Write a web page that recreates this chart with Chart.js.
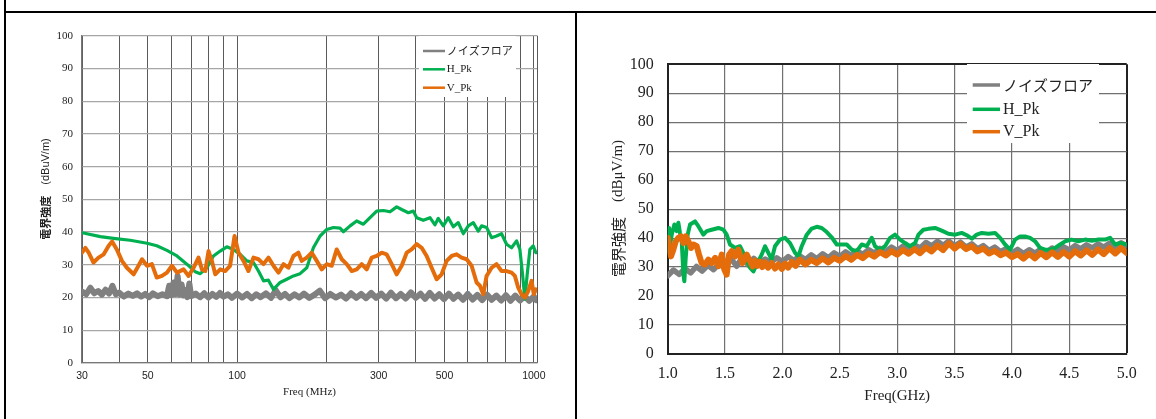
<!DOCTYPE html>
<html>
<head>
<meta charset="utf-8">
<script src="https://cdn.jsdelivr.net/npm/chart.js@4.4.1/dist/chart.umd.min.js"></script>
<style>
  html, body { margin: 0; padding: 0; background: #fff; }
  body { width: 1156px; height: 419px; position: relative; overflow: hidden; }
  .rule { position: absolute; background: #000; }
  canvas { position: absolute; }
</style>
</head>
<body>
<div class="rule" style="left:4px;top:0;width:2px;height:419px"></div>
<div class="rule" style="left:4px;top:11px;width:1152px;height:2px"></div>
<div class="rule" style="left:575px;top:11px;width:2px;height:408px"></div>
<canvas id="low" width="569" height="406" style="left:6px;top:13px;width:569px;height:406px"></canvas>
<canvas id="high" width="579" height="406" style="left:577px;top:13px;width:579px;height:406px"></canvas>
<script>
// Series names and colours shared by both panels
const seriesNames = ['ノイズフロア', 'H_Pk', 'V_Pk'];
const seriesColors = ['#808080', '#00b050', '#e46c0a'];

// ---- 30 MHz – 1 GHz panel (log frequency axis, MHz) ----
const lowGridFreqs = [30, 40, 50, 60, 70, 80, 90, 100, 200, 300, 400, 500, 600, 700, 800, 900, 1000];
const lowTickLabels = [30, 50, 100, 300, 500, 1000];
const levelTicks = [0, 10, 20, 30, 40, 50, 60, 70, 80, 90, 100];

const lowNoiseFreq = [
  30, 31, 32, 33, 34, 35, 36, 37, 38, 39, 40,
  41.5, 43, 44.5, 46, 47.5, 49, 50.5, 52, 54, 56,
  58, 59, 60, 61, 62, 63, 64, 65, 66, 67, 68, 69, 70,
  72.5, 75, 77.5, 80, 82.5, 85, 87.5, 90, 93, 96, 100,
  104, 108, 112, 116, 120, 125, 130, 135, 140, 145, 150,
  156, 162, 168, 175, 182, 190, 198, 206, 215, 224, 233, 242, 252, 262, 272, 283, 294,
  306, 318, 330, 343, 356, 370, 385, 400, 415, 430, 446, 463, 480, 498,
  517, 536, 556, 577, 599, 622, 645, 670, 695, 721, 748, 776, 805, 835, 866, 898, 931, 965, 1000, 1020
];
const lowNoiseLevel = [
  21.8, 21.0, 23.0, 21.3, 22.0, 20.9, 22.4, 21.2, 23.6, 21.0, 21.5,
  20.3, 21.2, 20.5, 21.3, 20.3, 21.1, 20.1, 21.3, 20.4, 21.0,
  20.4, 23.6, 20.7, 24.6, 21.0, 26.6, 20.9, 24.0, 20.6, 22.3, 20.1, 24.3, 20.4,
  21.2, 20.1, 21.3, 20.0, 21.1, 20.2, 21.4, 20.3, 21.0, 19.9, 21.2,
  20.0, 21.1, 19.8, 21.0, 20.1, 21.3, 19.9, 22.2, 20.1, 21.1, 19.8,
  21.0, 20.0, 21.2, 19.9, 20.8, 22.1, 19.8, 21.1, 20.0, 20.9, 19.7, 21.3, 19.9, 21.1, 19.8, 21.4, 19.9,
  21.2, 19.7, 21.5, 19.8, 21.1, 19.7, 21.6, 19.9, 21.2, 19.6, 21.4, 19.7, 21.0, 19.5,
  21.2, 19.6, 20.9, 19.3, 21.1, 19.4, 20.8, 19.2, 20.9, 19.3, 20.6, 19.1, 20.7, 19.0, 20.6, 19.1, 20.4, 19.0, 20.3, 19.2
];

const lowHFreq = [
  30.0, 34.6, 38.3, 43.6, 49.7, 53.6, 58.0, 62.7, 67.7, 72.2, 75.1, 79.1, 83.2, 87.7, 92.3, 97.2,
  102.4, 107.8, 113.5, 118.0, 122.7, 127.5, 132.6, 139.6, 147.0, 154.8, 163.0, 171.7, 180.7, 190.4,
  200.5, 211.1, 222.3, 228.1, 240.3, 252.9, 266.4, 280.5, 295.4, 311.1, 327.6, 345.0, 358.6, 377.6, 392.6,
  402.9, 424.2, 446.7, 464.3, 476.4, 495.3, 514.9, 535.3, 556.5, 578.5, 601.3, 625.1, 649.8, 666.8, 693.2,
  720.6, 748.8, 778.6, 809.3, 841.4, 874.7, 897.5, 916.2, 933.0, 950.0, 970.0, 995.4, 1016
];
const lowHLevel = [
  39.8, 38.6, 38.1, 37.5, 36.6, 35.8, 34.4, 32.7, 30.2, 27.9, 27.3, 29.1, 32.7, 34.2, 35.5, 34.7,
  33.2, 31.2, 30.7, 28.1, 25.1, 25.3, 22.5, 24.6, 25.6, 26.6, 27.3, 29.1, 35.2, 38.8,
  40.8, 41.4, 41.2, 40.1, 41.9, 43.4, 42.4, 44.4, 46.4, 46.6, 46.2, 47.7, 46.9, 45.9, 46.4,
  44.4, 43.6, 44.4, 42.2, 44.2, 41.9, 44.4, 41.6, 42.9, 39.5, 41.9, 42.9, 40.3, 41.9, 41.4,
  38.3, 38.8, 39.5, 36.3, 35.2, 37.3, 34.7, 27.1, 19.5, 27.1, 34.7, 35.8, 33.7
];

const lowVFreq = [
  30.0, 30.8, 31.6, 32.8, 34.1, 35.5, 36.9, 37.9, 39.3, 40.9, 42.5, 44.8, 46.5, 47.8, 49.7, 51.6,
  53.6, 55.8, 58.0, 60.3, 62.7, 66.0, 68.6, 71.3, 74.1, 76.1, 78.1, 80.1, 82.2, 84.4, 87.7, 91.1,
  94.7, 98.0, 101.1, 105.1, 109.2, 113.5, 118.0, 122.7, 127.5, 132.6, 137.8, 143.3, 148.9, 154.8,
  160.9, 165.1, 171.7, 178.4, 185.5, 192.9, 200.5, 208.4, 216.6, 225.2, 234.1, 243.4, 252.9, 263.0,
  273.4, 284.2, 295.4, 307.1, 319.2, 331.9, 345.0, 358.6, 372.8, 387.5, 402.9, 418.8, 435.3, 452.5,
  470.4, 488.9, 508.3, 528.4, 549.3, 571.0, 593.6, 617.1, 641.5, 658.3, 675.5, 693.2, 720.6, 748.8,
  778.6, 809.3, 841.4, 863.5, 886.1, 909.2, 933.0, 957.5, 982.5, 1000, 1016
];
const lowVLevel = [
  33.7, 35.2, 33.7, 30.7, 32.2, 33.2, 35.8, 37.1, 34.7, 31.2, 29.1, 27.1, 29.7, 31.7, 29.7, 30.2,
  26.1, 26.6, 27.6, 29.7, 27.6, 28.6, 26.6, 29.1, 32.2, 28.6, 28.1, 34.2, 31.2, 27.1, 28.6, 28.1,
  29.7, 38.8, 33.7, 31.2, 28.1, 32.2, 31.7, 30.2, 32.2, 29.7, 27.6, 30.2, 29.1, 32.7,
  33.7, 31.2, 32.2, 33.7, 31.2, 28.6, 30.2, 29.7, 34.7, 31.7, 30.2, 28.1, 28.6, 30.2,
  28.6, 32.2, 32.7, 33.7, 33.2, 30.2, 27.1, 29.7, 33.7, 34.7, 36.3, 35.2, 32.7, 29.1,
  25.6, 27.1, 31.2, 32.7, 33.2, 32.2, 31.7, 29.7, 24.6, 23.6, 21.0, 26.6, 29.1, 30.2,
  28.1, 28.1, 27.6, 26.6, 23.0, 21.0, 20.0, 22.0, 25.1, 21.0, 22.5
];

// ---- 1 GHz – 5 GHz panel (linear frequency axis, GHz) ----
const highNoiseFreq = [
  1.00, 1.05, 1.10, 1.15, 1.20, 1.25, 1.30, 1.35, 1.40, 1.45, 1.50, 1.55, 1.60, 1.65, 1.70, 1.75,
  1.80, 1.85, 1.90, 1.95, 2.00, 2.05, 2.10, 2.15, 2.20, 2.25, 2.30, 2.35, 2.40, 2.45, 2.50, 2.55,
  2.60, 2.65, 2.70, 2.75, 2.80, 2.85, 2.90, 2.95, 3.00, 3.05, 3.10, 3.15, 3.20, 3.25, 3.30, 3.35,
  3.40, 3.45, 3.50, 3.55, 3.60, 3.65, 3.70, 3.75, 3.80, 3.85, 3.90, 3.95, 4.00, 4.05, 4.10, 4.15,
  4.20, 4.25, 4.30, 4.35, 4.40, 4.45, 4.50, 4.55, 4.60, 4.65, 4.70, 4.75, 4.80, 4.85, 4.90, 4.95, 5.00
];
const highNoiseLevel = [
  27.0, 29.0, 27.5, 29.5, 28.0, 30.2, 28.6, 30.6, 29.1, 31.2, 29.6, 33.0, 30.3, 33.4, 30.8, 33.0,
  31.3, 32.8, 31.6, 33.2, 31.9, 33.6, 32.3, 33.9, 32.6, 34.2, 32.9, 34.6, 33.2, 34.9, 33.6, 35.3,
  34.0, 35.6, 34.4, 36.0, 34.8, 36.5, 35.3, 36.9, 35.7, 37.2, 36.1, 37.6, 36.6, 38.5, 37.3, 38.9,
  37.5, 39.0, 37.3, 38.6, 36.9, 38.0, 36.3, 37.4, 35.8, 36.9, 35.3, 36.4, 34.9, 36.1, 34.7, 36.0,
  34.8, 36.2, 35.1, 36.6, 35.5, 37.0, 35.9, 37.4, 36.3, 37.7, 36.6, 38.0, 36.9, 38.2, 37.1, 38.4, 37.3
];

const highHFreq = [
  1.000, 1.012, 1.023, 1.035, 1.058, 1.078, 1.093, 1.107, 1.122, 1.137, 1.145, 1.157, 1.174, 1.195,
  1.238, 1.267, 1.311, 1.340, 1.383, 1.442, 1.485, 1.514, 1.543, 1.587, 1.630, 1.674, 1.718, 1.747,
  1.776, 1.819, 1.848, 1.877, 1.906, 1.935, 1.979, 2.023, 2.066, 2.110, 2.139, 2.168, 2.212, 2.255,
  2.299, 2.342, 2.386, 2.429, 2.473, 2.517, 2.560, 2.604, 2.647, 2.691, 2.734, 2.778, 2.807, 2.851,
  2.894, 2.938, 2.981, 3.025, 3.069, 3.112, 3.156, 3.185, 3.228, 3.272, 3.330, 3.388, 3.446, 3.505,
  3.562, 3.606, 3.650, 3.693, 3.737, 3.795, 3.853, 3.897, 3.940, 3.984, 4.027, 4.071, 4.114, 4.158,
  4.202, 4.245, 4.289, 4.332, 4.376, 4.420, 4.463, 4.521, 4.579, 4.637, 4.696, 4.754, 4.812, 4.855,
  4.899, 4.943, 5.000
];
const highHLevel = [
  35.0, 43.5, 38.0, 41.2, 44.7, 42.4, 45.3, 41.8, 38.9, 27.4, 25.1, 33.2, 41.2, 44.7,
  45.8, 44.1, 41.2, 42.4, 42.9, 43.5, 42.9, 41.2, 37.8, 36.6, 37.2, 33.7, 29.7, 28.5,
  30.9, 34.3, 37.2, 34.9, 32.6, 37.2, 39.5, 40.1, 38.3, 34.9, 33.7, 37.2, 41.2, 43.3,
  43.9, 43.5, 42.1, 40.3, 37.8, 37.8, 37.8, 36.0, 35.5, 37.8, 37.2, 40.1, 37.2, 36.0,
  37.2, 40.1, 41.2, 39.5, 38.3, 37.2, 38.3, 41.2, 42.9, 43.2, 43.5, 42.6, 41.5, 41.2,
  41.8, 41.0, 39.8, 41.2, 41.8, 41.5, 41.8, 40.1, 37.8, 36.0, 39.5, 40.6, 40.6, 40.1,
  38.9, 36.6, 36.0, 36.0, 36.6, 37.8, 38.9, 39.5, 38.9, 39.5, 39.1, 39.5, 39.5, 40.1,
  37.8, 38.3, 37.8
];

const highVFreq = [
  1.000, 1.012, 1.029, 1.049, 1.070, 1.093, 1.116, 1.137, 1.157, 1.180, 1.203, 1.224, 1.253, 1.273,
  1.296, 1.325, 1.354, 1.384, 1.413, 1.442, 1.471, 1.494, 1.514, 1.535, 1.558, 1.587, 1.616, 1.651,
  1.689, 1.718, 1.740, 1.761, 1.785, 1.805, 1.825, 1.848, 1.875, 1.906, 1.935, 1.965, 1.995, 2.023,
  2.050, 2.081, 2.115, 2.15, 2.20, 2.25, 2.30, 2.35, 2.40, 2.45, 2.50, 2.55, 2.60, 2.65, 2.70, 2.75,
  2.80, 2.85, 2.90, 2.95, 3.00, 3.05, 3.10, 3.15, 3.20, 3.25, 3.30, 3.35, 3.40, 3.45, 3.50, 3.55,
  3.60, 3.65, 3.70, 3.75, 3.80, 3.85, 3.90, 3.95, 4.00, 4.05, 4.10, 4.15, 4.20, 4.25, 4.30, 4.35,
  4.40, 4.45, 4.50, 4.55, 4.60, 4.65, 4.70, 4.75, 4.80, 4.85, 4.90, 4.95, 5.00
];
const highVLevel = [
  40.1, 37.2, 33.7, 36.0, 38.9, 40.1, 40.6, 38.3, 40.6, 38.9, 36.6, 37.8, 37.2, 34.3,
  31.4, 30.9, 32.6, 31.4, 33.2, 30.3, 34.3, 29.1, 27.4, 34.3, 35.5, 33.7, 36.0, 31.4,
  34.3, 32.0, 30.2, 32.2, 30.4, 31.9, 30.0, 31.6, 29.8, 31.4, 29.5, 30.9, 29.4, 31.2,
  29.8, 31.8, 30.4, 32.6, 30.9, 32.5, 31.4, 33.0, 31.6, 33.2, 32.2, 33.8, 32.5, 34.2, 33.1, 34.7,
  33.6, 35.2, 34.0, 35.5, 34.3, 35.9, 34.6, 36.2, 34.8, 36.7, 35.4, 37.4, 35.9, 38.2, 36.4, 38.0,
  36.2, 37.2, 35.4, 36.4, 34.7, 35.6, 34.1, 35.0, 33.4, 34.5, 32.9, 34.6, 33.0, 34.9, 33.4, 35.1,
  33.5, 35.2, 33.6, 35.5, 34.0, 35.8, 34.2, 36.1, 34.5, 36.5, 34.7, 36.6, 34.9
];

function pairs(xs, ys) {
  return xs.map((x, i) => ({ x: x, y: ys[i] }));
}

// Legend drawn inside the plot area on a white box
function makeLegend(cfg) {
  return {
    id: 'insideLegend',
    afterDatasetsDraw(chart) {
      const ctx = chart.ctx;
      ctx.save();
      ctx.fillStyle = '#fff';
      ctx.fillRect(cfg.box[0], cfg.box[1], cfg.box[2], cfg.box[3]);
      chart.data.datasets.forEach((ds, i) => {
        const y = cfg.rows[i];
        ctx.strokeStyle = ds.borderColor;
        ctx.lineWidth = cfg.lineWidth;
        ctx.lineCap = 'butt';
        ctx.beginPath();
        ctx.moveTo(cfg.lineX[0], y);
        ctx.lineTo(cfg.lineX[1], y);
        ctx.stroke();
        ctx.fillStyle = '#222';
        ctx.textAlign = 'left';
        ctx.textBaseline = 'middle';
        ctx.font = /[^\x00-\x7f]/.test(ds.label) ? cfg.cjkFont : cfg.latinFont;
        ctx.fillText(ds.label, cfg.textX, y);
      });
      ctx.restore();
    }
  };
}

// Rotated y-axis title made of parts in different fonts
function makeYTitle(cfg) {
  return {
    id: 'yTitle',
    afterDraw(chart) {
      const ctx = chart.ctx;
      ctx.save();
      ctx.translate(cfg.x, cfg.y);
      ctx.rotate(-Math.PI / 2);
      ctx.fillStyle = '#222';
      ctx.textBaseline = 'middle';
      ctx.textAlign = 'left';
      let total = 0;
      const widths = cfg.parts.map(p => { ctx.font = p.font; const w = ctx.measureText(p.text).width; total += w; return w; });
      let x = -total / 2;
      cfg.parts.forEach((p, i) => { ctx.font = p.font; ctx.fillText(p.text, x, 0); x += widths[i]; });
      ctx.restore();
    }
  };
}

const serif = '"Liberation Serif", "Times New Roman", serif';
const sans = '"Liberation Sans", Arial, sans-serif';
const cjk = '"Noto Sans CJK JP", sans-serif';

const commonElements = {
  point: { radius: 0 },
  line: { tension: 0, borderJoinStyle: 'round', borderCapStyle: 'round', fill: false }
};

new Chart(document.getElementById('low'), {
  type: 'line',
  data: {
    datasets: [
      { label: seriesNames[0], data: pairs(lowNoiseFreq, lowNoiseLevel), borderColor: seriesColors[0], borderWidth: 6, order: 3 },
      { label: seriesNames[1], data: pairs(lowHFreq, lowHLevel), borderColor: seriesColors[1], borderWidth: 3.2, order: 2 },
      { label: seriesNames[2], data: pairs(lowVFreq, lowVLevel), borderColor: seriesColors[2], borderWidth: 4, order: 1 }
    ]
  },
  options: {
    responsive: false,
    animation: false,
    devicePixelRatio: 1,
    elements: commonElements,
    layout: { padding: { left: 0, top: 22.7, right: 38, bottom: 0 } },
    plugins: { legend: { display: false }, tooltip: { enabled: false } },
    scales: {
      x: {
        type: 'logarithmic',
        min: 30,
        max: 1025,
        afterFit(s) { s.height = 56; },
        afterBuildTicks(s) { s.ticks = lowGridFreqs.concat([s.max]).map(v => ({ value: v })); },
        ticks: {
          autoSkip: false, maxRotation: 0, minRotation: 0, padding: 7, color: '#222',
          font: { family: sans, size: 10.5 },
          callback: v => lowTickLabels.includes(v) ? String(v) : ''
        },
        grid: { drawTicks: false, color: '#5a5a5a', lineWidth: 1 },
        border: { color: '#777', width: 1.3 },
        title: { display: true, text: 'Freq (MHz)', color: '#222', font: { family: serif, size: 11 }, padding: { top: 0, bottom: 20 } }
      },
      y: {
        min: 0,
        max: 100,
        afterFit(s) { s.width = 76; },
        afterBuildTicks(s) { s.ticks = levelTicks.map(v => ({ value: v })); },
        ticks: { padding: 9, color: '#222', font: { family: serif, size: 11 } },
        grid: { drawTicks: false, color: '#a6a6a6', lineWidth: 1.2 },
        border: { color: '#777', width: 1.3 }
      }
    }
  },
  plugins: [
    makeLegend({ box: [413, 23, 97, 61], rows: [38, 56.3, 74.7], lineX: [417, 439], textX: 440.7, lineWidth: 2.5,
                 cjkFont: '11px ' + cjk, latinFont: '11px ' + serif }),
    makeYTitle({ x: 40, y: 176, parts: [
      { text: '電界強度', font: 'bold 11px ' + cjk },
      { text: '　(dBuV/m)', font: '11px ' + sans }
    ] })
  ]
});

new Chart(document.getElementById('high'), {
  type: 'line',
  data: {
    datasets: [
      { label: seriesNames[0], data: pairs(highNoiseFreq, highNoiseLevel), borderColor: seriesColors[0], borderWidth: 5.5, order: 3 },
      { label: seriesNames[1], data: pairs(highHFreq, highHLevel), borderColor: seriesColors[1], borderWidth: 4, order: 2 },
      { label: seriesNames[2], data: pairs(highVFreq, highVLevel), borderColor: seriesColors[2], borderWidth: 6, order: 1 }
    ]
  },
  options: {
    responsive: false,
    animation: false,
    devicePixelRatio: 1,
    elements: commonElements,
    layout: { padding: { left: 0, top: 51.3, right: 29.3, bottom: 0 } },
    plugins: { legend: { display: false }, tooltip: { enabled: false } },
    scales: {
      x: {
        type: 'linear',
        min: 1,
        max: 5,
        afterFit(s) { s.height = 65; },
        ticks: { stepSize: 0.5, autoSkip: false, maxRotation: 0, padding: 10, color: '#222',
                 font: { family: serif, size: 16 }, callback: v => Number(v).toFixed(1) },
        grid: { drawTicks: false, color: c => (c.tick && c.tick.value === 5) ? '#222' : '#707070',
                lineWidth: c => (c.tick && c.tick.value === 5) ? 2 : 1.2 },
        border: { color: '#222', width: 2 },
        title: { display: true, text: 'Freq(GHz)', color: '#222', font: { family: serif, size: 15 }, padding: { top: 0, bottom: 14 } }
      },
      y: {
        min: 0,
        max: 100,
        afterFit(s) { s.width = 90.7; },
        afterBuildTicks(s) { s.ticks = levelTicks.map(v => ({ value: v })); },
        ticks: { padding: 14, color: '#222', font: { family: serif, size: 16 } },
        grid: { drawTicks: false, color: c => (c.tick && c.tick.value === 100) ? '#222' : '#707070',
                lineWidth: c => (c.tick && c.tick.value === 100) ? 2 : 1.2 },
        border: { color: '#222', width: 2 }
      }
    }
  },
  plugins: [
    makeLegend({ box: [390, 51, 132, 79], rows: [72, 96.3, 118.7], lineX: [395.7, 423], textX: 426, lineWidth: 3.5,
                 cjkFont: '15px ' + cjk, latinFont: '16px ' + serif }),
    makeYTitle({ x: 41, y: 195.5, parts: [
      { text: '電界強度', font: '15px ' + cjk },
      { text: '　(dBμV/m)', font: '15px ' + serif }
    ] })
  ]
});
</script>
</body>
</html>
